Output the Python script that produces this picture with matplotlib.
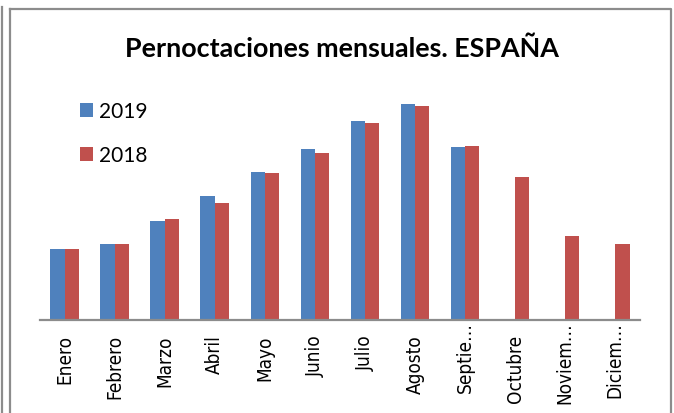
import matplotlib
matplotlib.use('Agg')
import matplotlib.pyplot as plt
from matplotlib.lines import Line2D
import numpy as np

# Data (millions of overnight stays)
meses = ['Enero', 'Febrero', 'Marzo', 'Abril', 'Mayo', 'Junio', 'Julio',
         'Agosto', 'Septie…', 'Octubre', 'Noviem…', 'Diciem…']
v2019 = [19.4, 20.7, 27.0, 33.8, 40.4, 46.7, 54.4, 59.2, 47.3]
v2018 = [19.3, 20.7, 27.5, 31.9, 40.2, 45.6, 53.8, 58.5, 47.6, 39.2, 22.9, 20.7]

BLUE = '#4F81BD'
RED = '#C0504D'
GRID = '#8c8c8c'

W, H = 674, 414
fig = plt.figure(figsize=(W / 100, H / 100), dpi=100)
fig.patch.set_facecolor('white')

# plot area in pixels: x 39.5..640.3, baseline at y=320.7, top at y=92
ax = fig.add_axes([39.5 / W, 1 - 320.7 / H, 600.8 / W, 228.7 / H])
ax.set_facecolor('white')

x = np.arange(len(meses))
bw = 0.285
b19 = ax.bar(np.arange(len(v2019)) - bw / 2, v2019, bw, color=BLUE, label='2019')
b18 = ax.bar(x + bw / 2, v2018, bw, color=RED, label='2018')

ax.set_xlim(-0.5, len(meses) - 0.5)
ax.set_ylim(0, 62.7)
for s in ['top', 'right', 'left']:
    ax.spines[s].set_visible(False)
ax.spines['bottom'].set_color(GRID)
ax.spines['bottom'].set_linewidth(1.6)
ax.set_yticks([])
ax.set_xticks([])

# category labels, rotated; truncated ones reach up to the axis
for i, m in enumerate(meses):
    off = -1 if m.endswith('…') else -10.5
    ax.annotate(m, xy=(i, 0), xycoords=('data', 'axes fraction'),
                xytext=(0, off), textcoords='offset points',
                rotation=90, ha='center', va='top',
                fontsize=13.6, fontfamily='DejaVu Sans',
                fontstretch='condensed', color='black')

fig.text(341.5 / W, 1 - 49 / H, 'Pernoctaciones mensuales. ESPAÑA',
         ha='center', va='center', fontsize=19.4, fontweight='bold',
         family='Lato', color='black')

fig.legend(handles=[b19, b18], loc='upper left',
           bbox_to_anchor=(69.5 / W, 1 - 92 / H), frameon=False,
           prop={'family': 'Lato', 'size': 15}, borderpad=0,
           handlelength=0.62, handleheight=0.62, handletextpad=0.3,
           labelspacing=1.15)

# chart frame like the spreadsheet object
fig.add_artist(Line2D([10 / W, 671 / W, 671 / W], [1 - 10 / H, 1 - 10 / H, 0],
                      color=GRID, lw=1.6))
fig.add_artist(Line2D([10 / W, 10 / W], [1 - 10 / H, 0], color=GRID, lw=1.6))
fig.add_artist(Line2D([1.5 / W, 1.5 / W], [1 - 8 / H, 0], color=GRID, lw=1.6))

fig.savefig('out.png', dpi=100, facecolor='white')
